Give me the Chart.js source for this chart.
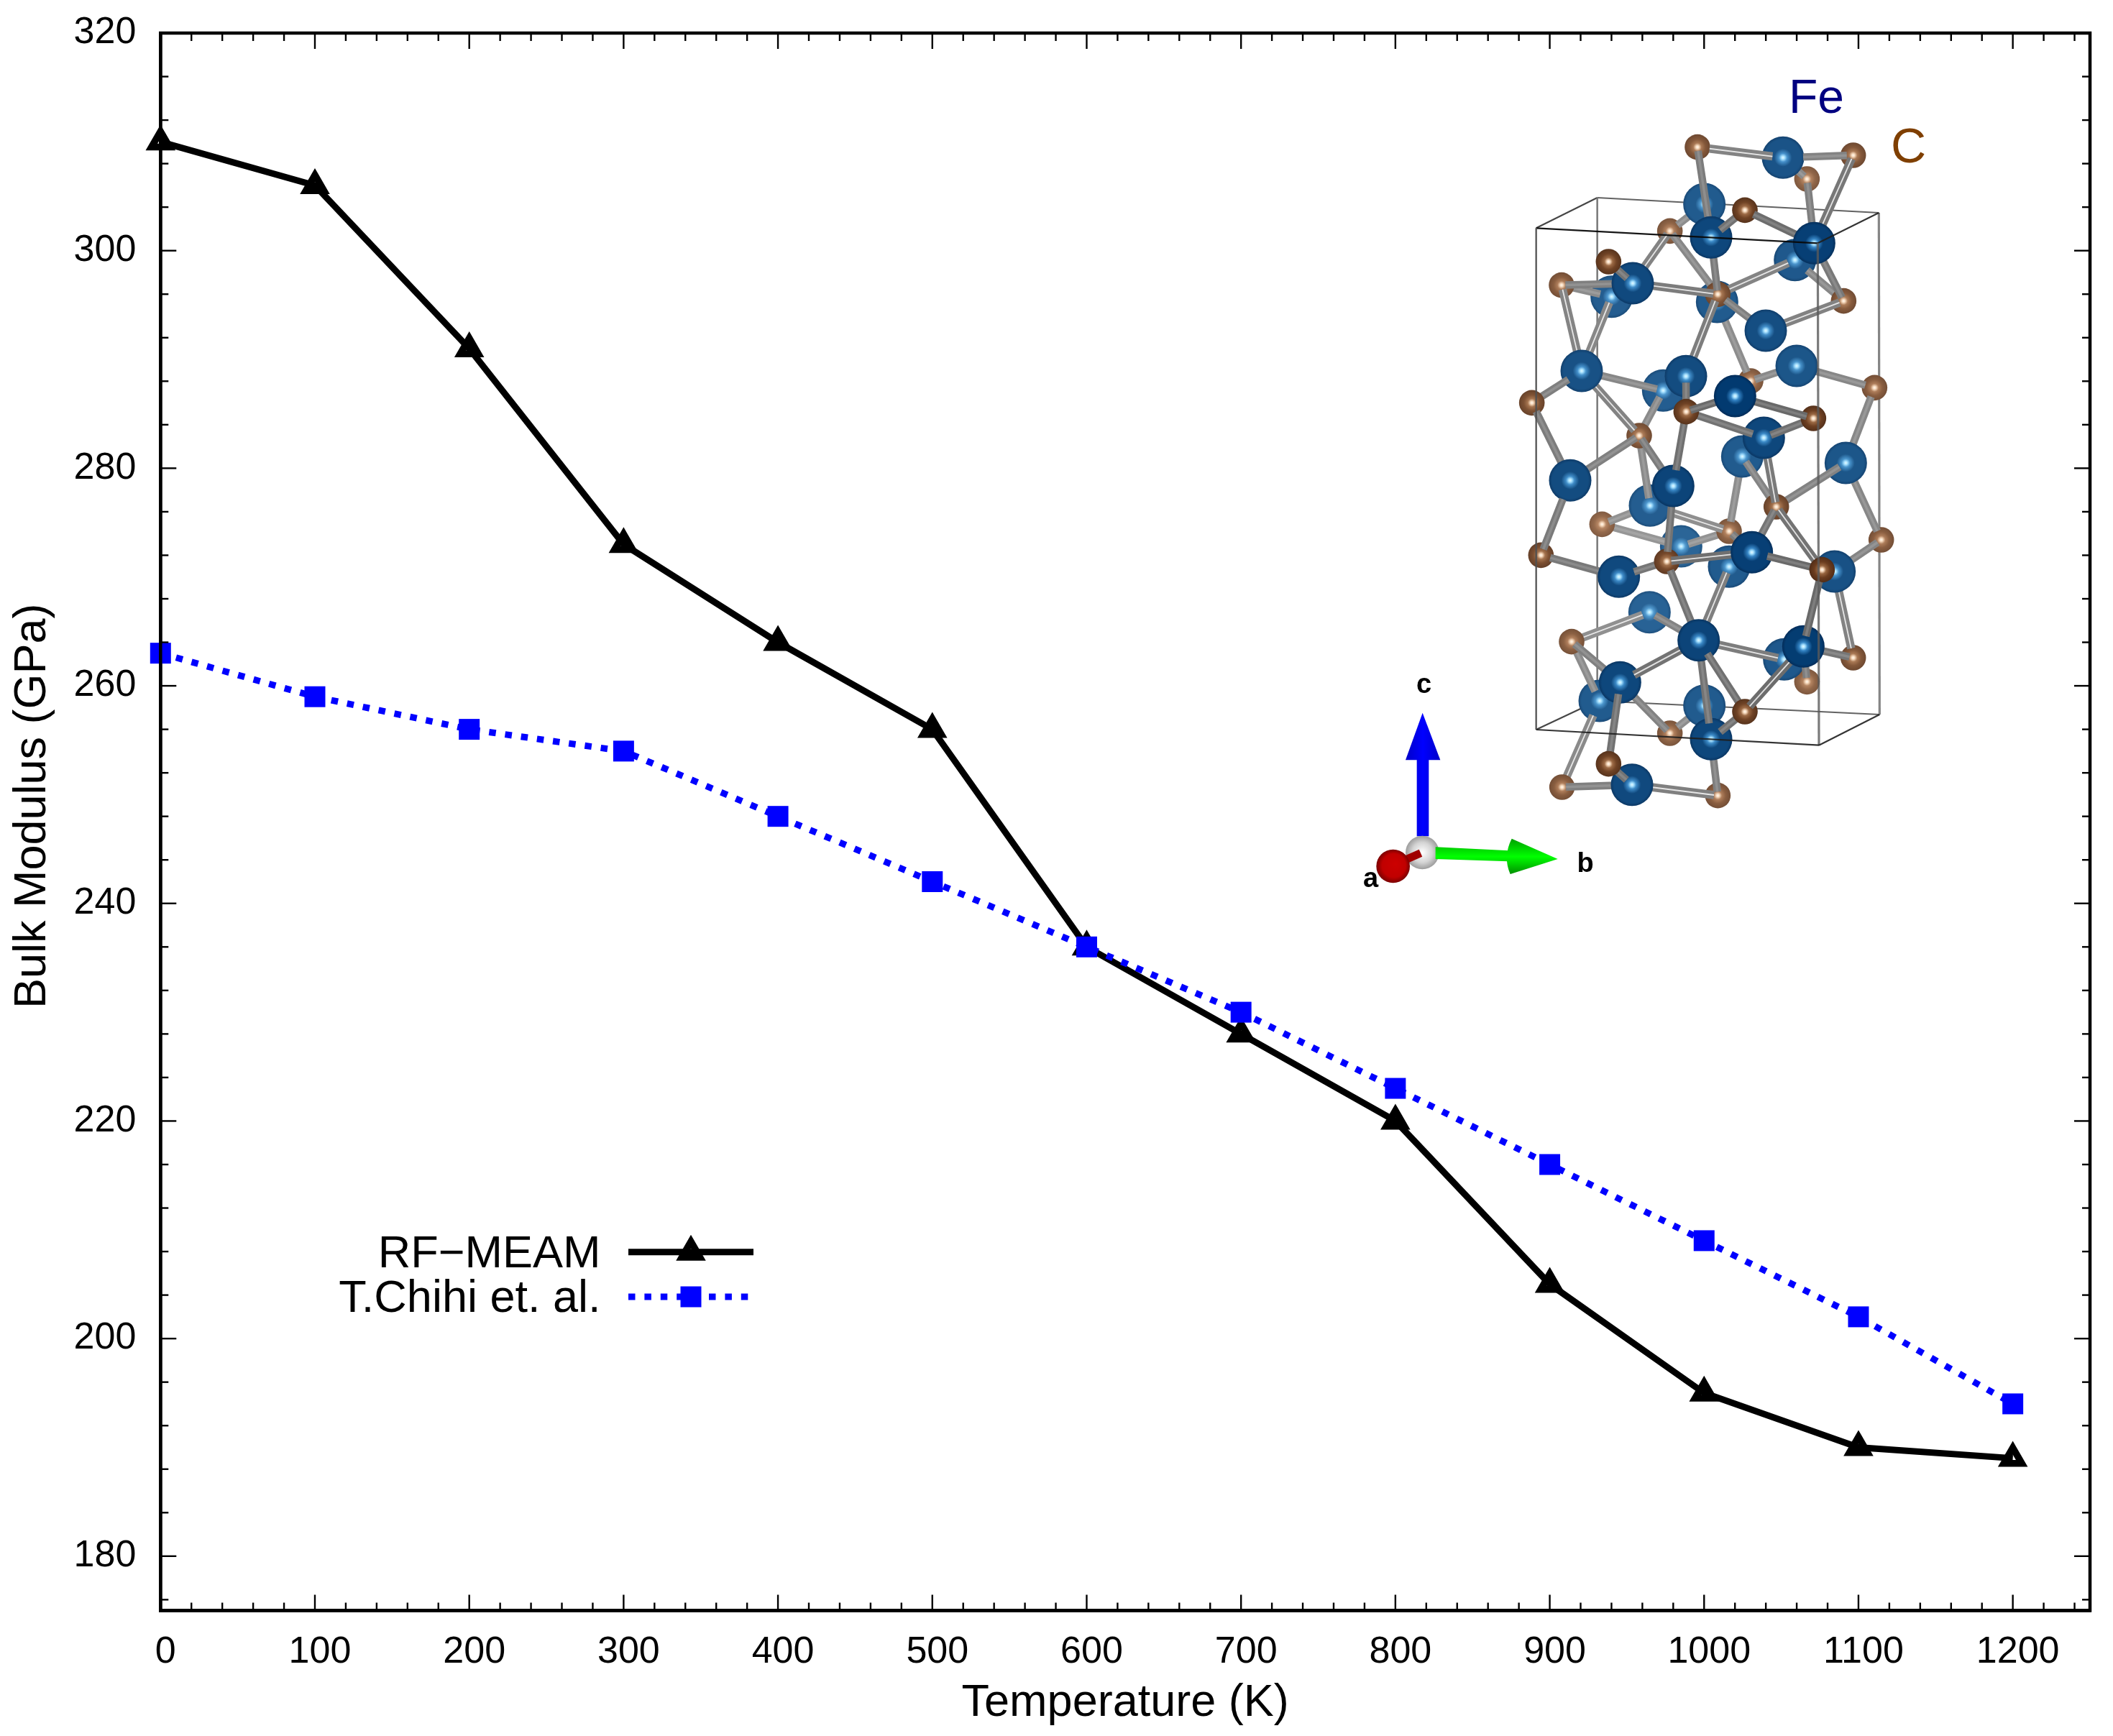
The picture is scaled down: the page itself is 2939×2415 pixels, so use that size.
<!DOCTYPE html>
<html>
<head>
<meta charset="utf-8">
<script src="https://cdn.jsdelivr.net/npm/chart.js@4/dist/chart.umd.js"></script>
<style>html,body{margin:0;padding:0;background:#fff}canvas{display:block}</style>
</head>
<body>
<canvas id="c" width="2939" height="2415"></canvas>
<script>
// ---- chart data ----
const temperatures = [0,100,200,300,400,500,600,700,800,900,1000,1100,1200];
const rfMeam = [310,306,291,273,264,256,236,228,220,205,195,190,189];
const chihi  = [263,259,256,254,248,242,236,230,223,216,209,202,194];
const seriesNames = ['RF\u2212MEAM','T.Chihi et. al.'];
const xTickValues = [0,100,200,300,400,500,600,700,800,900,1000,1100,1200];
const yTickValues = [180,200,220,240,260,280,300,320];
const xAxisTitle = 'Temperature (K)';
const yAxisTitle = 'Bulk Modulus (GPa)';

// ---- inset crystal illustration (not data; picture coordinates) ----
const insetAtoms = [
['C',783,224,.5],['F',1140,268,.5],['C',1433,258,.5],['C',1240,357,.25],['F',812,462,.35],['C',981,487,.85],
['C',668,574,.3],['F',840,601,.75],['F',1270,625,.9],['F',1190,695,.4],['C',412,702,.85],['F',513,792,.7],
['C',216,800,.4],['F',425,848,.3],['F',865,870,.35],['C',868,838,.55],['C',1393,866,.45],['F',1068,990,.6],
['F',300,1158,.55],['F',1197,1137,.45],['C',92,1291,.6],['F',735,1180,.65],['F',640,1240,.3],['C',1005,1200,.3],
['F',940,1263,1],['C',736,1328,.85],['C',1267,1356,.9],['C',1522,1228,.4],['F',1060,1437,.75],['F',970,1515,.35],
['C',540,1428,.45],['F',1402,1542,.45],['F',252,1615,.65],['F',682,1638,.8],['F',585,1720,.3],['C',385,1798,.2],
['C',1112,1725,.6],['C',915,1827,.3],['F',715,1890,.15],['C',130,1927,.65],['C',655,1953,.75],['F',1010,1915,.9],
['F',915,1975,.35],['F',455,2017,.7],['C',1303,1988,.95],['F',1355,1995,.55],['C',1550,1863,.4],['F',583,2165,.2],
['F',788,2282,.8],['C',258,2288,.35],['F',1225,2308,.95],['F',1145,2362,.4],['C',1433,2355,.5],['C',1240,2455,.25],
['F',460,2458,.75],['F',375,2535,.35],['F',812,2555,.35],['C',981,2580,.85],['C',668,2670,.3],['F',840,2695,.75],
['C',412,2798,.85],['F',510,2885,.7],['C',218,2895,.4],['C',868,2930,.4]];
const insetBonds = [
[0,1,1],[1,2,0],[0,7,0],[3,1,0],[3,8,0],[2,8,1],[5,7,0],[5,8,0],[6,4,0],[6,11,1],[6,15,0],[7,15,0],[8,16,0],[9,16,0],
[9,15,1],[10,11,0],[12,11,0],[12,13,0],[12,18,1],[13,18,1],[11,15,1],[15,17,0],[17,16,1],[15,21,1],[14,23,0],[18,20,0],
[18,22,0],[18,30,1],[19,23,0],[19,27,0],[21,25,0],[22,30,0],[24,26,0],[24,25,0],[25,28,0],[28,26,0],[25,33,0],[30,32,0],
[30,34,0],[30,33,0],[27,31,0],[20,32,0],[32,39,0],[39,43,0],[43,40,0],[34,35,0],[35,38,0],[34,37,1],[33,40,0],[38,37,0],
[40,41,1],[29,37,0],[29,36,0],[28,36,1],[31,36,0],[31,46,0],[36,44,1],[36,41,0],[37,41,0],[41,44,0],[44,50,0],[45,46,0],
[45,52,1],[40,48,0],[42,48,1],[47,48,0],[47,49,1],[49,54,0],[49,55,0],[48,51,1],[50,52,0],[53,50,0],[48,54,1],[48,59,0],
[48,57,0],[57,50,1],[54,58,0],[54,60,0],[56,58,0],[57,59,0],[60,61,0],[55,62,1],[62,61,0],[61,63,1],[59,63,0]];
const insetBox = {A:[110,562],B:[1285,625],C:[365,435],D:[1540,498],E:[110,2655],F:[1290,2720],G:[365,2535],H:[1543,2592]};

const px = X => 2100 + X/3, py = Y => 130 + Y/3;
function mix(a,b,t){return a.map((v,i)=>Math.round(v+(b[i]-v)*t));}
function rgb(c){return `rgb(${c[0]},${c[1]},${c[2]})`;}

function drawAtom(ctx,a){
  const x=px(a[1]),y=py(a[2]),d=a[3],isFe=a[0]==='F',r=isFe?29.5:17.8;
  const g=ctx.createRadialGradient(x,y,0,x,y,r);
  if(isFe){
    const body=mix([50,108,158],[2,58,112],d), edge=mix([38,90,136],[1,42,86],d);
    g.addColorStop(0,'#e6f8ff');g.addColorStop(.08,'#a8e2ff');g.addColorStop(.2,rgb(mix([90,160,210],[50,130,195],d)));
    g.addColorStop(.42,rgb(body));g.addColorStop(.85,rgb(body));g.addColorStop(1,rgb(edge));
  }else{
    const body=mix([160,118,88],[104,58,28],d), edge=mix([140,102,76],[78,42,20],d);
    g.addColorStop(0,'#fff8f0');g.addColorStop(.12,'#f8dcc0');g.addColorStop(.32,rgb(mix([190,142,108],[150,100,62],d)));
    g.addColorStop(.62,rgb(body));g.addColorStop(1,rgb(edge));
  }
  ctx.fillStyle=g;ctx.beginPath();ctx.arc(x,y,r,0,Math.PI*2);ctx.fill();
}
function drawBond(ctx,b){
  let p=insetAtoms[b[0]],q=insetAtoms[b[1]];
  if(p[3]>q[3]){const t=p;p=q;q=t;}
  const rp=p[0]==='F'?29.5:17.8, rq=q[0]==='F'?29.5:17.8;
  const x1=px(p[1]),y1=py(p[2]),x2=px(q[1]),y2=py(q[2]);
  const L=Math.hypot(x2-x1,y2-y1),ux=(x2-x1)/L,uy=(y2-y1)/L;
  const s=rp*Math.max(.3,.95-(q[3]-p[3])*4), e=rq*.5;
  const dm=(p[3]+q[3])/2, v=Math.round(160-58*dm);
  ctx.save();
  ctx.lineCap='butt';
  ctx.strokeStyle=`rgb(${v},${v},${v})`;
  ctx.lineWidth=b[2]?11.5:10.5;
  const seg=()=>{ctx.beginPath();ctx.moveTo(x1+ux*s,y1+uy*s);ctx.lineTo(x2-ux*e,y2-uy*e);ctx.stroke();};
  seg();
  if(b[2]){ctx.strokeStyle='rgba(255,255,255,.8)';ctx.lineWidth=1.8;seg();}
  else{ctx.strokeStyle='rgba(255,255,255,.14)';ctx.lineWidth=3.5;seg();}
  ctx.restore();
}
function boxLine(ctx,a,b,color,w){
  ctx.strokeStyle=color;ctx.lineWidth=w;ctx.beginPath();
  ctx.moveTo(px(a[0]),py(a[1]));ctx.lineTo(px(b[0]),py(b[1]));ctx.stroke();
}
function drawCompass(ctx){
  const X=v=>1890+v/3,Y=v=>930+v/3;
  let g=ctx.createLinearGradient(X(195),0,X(340),0);
  g.addColorStop(0,'#0000c8');g.addColorStop(.5,'#0000ff');g.addColorStop(1,'#0000c8');
  ctx.fillStyle=g;
  ctx.fillRect(X(242),Y(375),50/3,325/3);
  ctx.beginPath();ctx.moveTo(X(266),Y(185));ctx.lineTo(X(340),Y(382));ctx.lineTo(X(195),Y(382));ctx.closePath();ctx.fill();
  g=ctx.createRadialGradient(X(265),Y(768),0,X(265),Y(768),70/3);
  g.addColorStop(0,'#ffffff');g.addColorStop(.6,'#d4d4d4');g.addColorStop(1,'#9c9c9c');
  ctx.fillStyle=g;ctx.beginPath();ctx.arc(X(265),Y(768),70/3,0,Math.PI*2);ctx.fill();
  g=ctx.createLinearGradient(0,Y(710),0,Y(860));
  g.addColorStop(0,'#00a000');g.addColorStop(.5,'#00ff00');g.addColorStop(1,'#008c00');
  ctx.fillStyle=g;
  ctx.beginPath();ctx.moveTo(X(320),Y(745));ctx.lineTo(X(625),Y(760));ctx.lineTo(X(625),Y(805));ctx.lineTo(X(320),Y(795));ctx.closePath();ctx.fill();
  ctx.beginPath();ctx.moveTo(X(638),Y(710));ctx.lineTo(X(830),Y(795));ctx.lineTo(X(632),Y(858));ctx.quadraticCurveTo(X(600),Y(785),X(638),Y(710));ctx.closePath();ctx.fill();
  ctx.strokeStyle='#a00000';ctx.lineWidth=11;ctx.beginPath();ctx.moveTo(X(190),Y(800));ctx.lineTo(X(258),Y(770));ctx.stroke();
  g=ctx.createRadialGradient(X(155),Y(815),0,X(143),Y(825),70/3);
  g.addColorStop(0,'#cc0000');g.addColorStop(.7,'#c00000');g.addColorStop(1,'#7a0000');
  ctx.fillStyle=g;ctx.beginPath();ctx.arc(X(143),Y(825),70/3,0,Math.PI*2);ctx.fill();
  ctx.fillStyle='#000';ctx.font='bold 38px "Liberation Sans"';ctx.textAlign='center';ctx.textBaseline='alphabetic';
  ctx.fillText('c',X(272),Y(103));
  ctx.fillText('a',X(50),Y(912));
  ctx.fillText('b',2205,1213);
}

const insetPlugin = {
  id:'inset',
  afterDraw(chart){
    const ctx=chart.ctx,B=insetBox;
    ctx.save();
    boxLine(ctx,B.C,B.D,'rgba(70,70,70,.85)',2.2);
    boxLine(ctx,B.A,B.C,'rgba(50,50,50,.9)',2.2);
    boxLine(ctx,B.C,B.G,'rgba(110,110,110,.9)',2.6);
    boxLine(ctx,B.E,B.G,'rgba(50,50,50,.9)',2.2);
    boxLine(ctx,B.G,B.H,'rgba(70,70,70,.85)',2.2);
    boxLine(ctx,B.D,B.H,'rgba(120,120,120,.9)',3.2);
    const items=[];
    insetAtoms.forEach(a=>items.push({d:a[3],f:()=>drawAtom(ctx,a)}));
    insetBonds.forEach(b=>items.push({d:(insetAtoms[b[0]][3]+insetAtoms[b[1]][3])/2,f:()=>drawBond(ctx,b)}));
    items.sort((p,q)=>p.d-q.d).forEach(i=>i.f());
    boxLine(ctx,B.A,B.B,'rgba(10,10,10,.95)',2.2);
    boxLine(ctx,B.B,B.D,'rgba(30,30,30,.9)',2.2);
    boxLine(ctx,B.A,B.E,'rgba(80,80,80,.95)',2.4);
    boxLine(ctx,B.B,B.F,'rgba(90,90,90,.8)',3.2);
    boxLine(ctx,B.E,B.F,'rgba(30,30,30,.9)',2.2);
    boxLine(ctx,B.F,B.H,'rgba(30,30,30,.9)',2.2);
    drawCompass(ctx);
    ctx.font='66px "Liberation Sans"';ctx.textAlign='left';ctx.textBaseline='alphabetic';
    ctx.fillStyle='#000080';ctx.fillText('Fe',2488,157);
    ctx.font='68px "Liberation Sans"';
    ctx.fillStyle='#7f3f00';ctx.fillText('C',2630,226);
    ctx.restore();
  }
};

const framePlugin = {
  id:'frame',
  afterDraw(chart){
    const ctx=chart.ctx,{left,right,top,bottom}=chart.chartArea,x=chart.scales.x,y=chart.scales.y;
    ctx.save();
    ctx.strokeStyle='#000';
    ctx.lineWidth=2.4;
    const line=(a,b,c,d)=>{ctx.beginPath();ctx.moveTo(a,b);ctx.lineTo(c,d);ctx.stroke();};
    for(let v=20;v<=1240;v+=20){
      const p=x.getPixelForValue(v),len=xTickValues.includes(v)?22:11;
      line(p,bottom,p,bottom-len);line(p,top,p,top+len);
    }
    for(let v=176;v<=316;v+=4){
      const p=y.getPixelForValue(v),len=yTickValues.includes(v)?22:11;
      line(left,p,left+len,p);line(right,p,right-len,p);
    }
    ctx.lineWidth=4.5;
    ctx.beginPath();ctx.moveTo(left,bottom);ctx.lineTo(left,top);ctx.lineTo(right,top);ctx.lineTo(right,bottom);ctx.closePath();ctx.stroke();
    ctx.restore();
  }
};

const keyPlugin = {
  id:'key',
  afterDatasetsDraw(chart){
    const ctx=chart.ctx,H=Chart.helpers;
    ctx.save();
    ctx.font='63px "Liberation Sans"';ctx.textAlign='right';ctx.textBaseline='alphabetic';ctx.fillStyle='#000';
    ctx.fillText(seriesNames[0],835.5,1763);
    ctx.fillText(seriesNames[1],835.5,1825);
    ctx.strokeStyle='#000';ctx.lineWidth=9;ctx.lineCap='butt';
    ctx.beginPath();ctx.moveTo(874,1741.7);ctx.lineTo(1048,1741.7);ctx.stroke();
    ctx.fillStyle='rgba(0,0,0,0)';ctx.lineWidth=9.5;
    ctx.strokeStyle='#000';
    H.drawPoint(ctx,{pointStyle:'triangle',radius:14.5,borderWidth:9.5},961,1741.7);
    ctx.strokeStyle='#0000ff';ctx.lineWidth=9;ctx.setLineDash([9.5,12.9]);
    ctx.beginPath();ctx.moveTo(874,1804);ctx.lineTo(1048,1804);ctx.stroke();
    ctx.setLineDash([]);
    ctx.fillStyle='#0000ff';ctx.lineWidth=0;
    H.drawPoint(ctx,{pointStyle:'rect',radius:20.5,borderWidth:0},961,1804);
    ctx.restore();
  }
};

const titleShiftPlugin = {
  id:'titleShift',
  afterLayout(chart){
    const s=chart.scales.y;
    if(!s._shifted){
      const orig=s.drawTitle;
      s.drawTitle=function(){const c=this.ctx;c.save();c.translate(0,-22);orig.apply(this,arguments);c.restore();};
      s._shifted=true;
    }
  }
};

new Chart(document.getElementById('c'),{
  type:'line',
  data:{
    labels:temperatures,
    datasets:[
      {label:seriesNames[1],data:temperatures.map((t,i)=>({x:t,y:chihi[i]})),order:1,clip:false,
       borderColor:'#0000ff',borderWidth:9,borderDash:[9.5,12.9],borderCapStyle:'butt',
       pointStyle:'rect',pointRadius:20.5,pointBackgroundColor:'#0000ff',pointBorderWidth:0,tension:0},
      {label:seriesNames[0],data:temperatures.map((t,i)=>({x:t,y:rfMeam[i]})),order:2,clip:false,
       borderColor:'#000',borderWidth:9,borderCapStyle:'butt',
       pointStyle:'triangle',pointRadius:14.5,pointBackgroundColor:'rgba(0,0,0,0)',pointBorderColor:'#000',pointBorderWidth:9.5,tension:0}
    ]
  },
  options:{
    responsive:false,animation:false,devicePixelRatio:1,
    layout:{padding:{top:46,left:0,right:32,bottom:0}},
    plugins:{legend:{display:false},title:{display:false},tooltip:{enabled:false}},
    scales:{
      x:{type:'linear',min:0,max:1250,
        afterFit(s){s.height=174.5;s.paddingLeft=0;s.paddingRight=0;},
        afterBuildTicks(s){s.ticks=xTickValues.map(v=>({value:v}));},
        grid:{display:false,drawTicks:false},
        border:{display:true,color:'#000',width:4.5},
        ticks:{color:'#000',font:{family:'Liberation Sans',size:52},padding:27,labelOffset:7,maxRotation:0,autoSkip:false,callback:v=>String(v)},
        title:{display:true,text:xAxisTitle,color:'#000',font:{family:'Liberation Sans',size:63},padding:{top:0,bottom:8}}
      },
      y:{type:'linear',min:175,max:320,
        afterFit(s){s.width=223.3;s.paddingTop=0;s.paddingBottom=0;},
        afterBuildTicks(s){s.ticks=yTickValues.map(v=>({value:v}));},
        grid:{display:false,drawTicks:false},
        border:{display:true,color:'#000',width:4.5},
        ticks:{color:'#000',font:{family:'Liberation Sans',size:52},padding:34,autoSkip:false,callback:v=>String(v)},
        title:{display:true,text:yAxisTitle,color:'#000',font:{family:'Liberation Sans',size:63},padding:{top:8,bottom:0}}
      }
    }
  },
  plugins:[titleShiftPlugin,framePlugin,keyPlugin,insetPlugin]
});
</script>
</body>
</html>
